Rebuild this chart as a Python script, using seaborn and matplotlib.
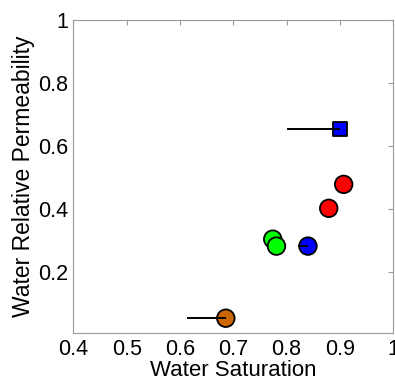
import matplotlib
matplotlib.use("Agg")
import matplotlib.pyplot as plt
import seaborn as sns
import pandas as pd
import numpy as np

sns.set_style("white")
plt.rcParams['font.family'] = ['Liberation Sans', 'DejaVu Sans']
plt.rcParams['text.color'] = 'black'
plt.rcParams['axes.labelcolor'] = 'black'
plt.rcParams['xtick.labelcolor'] = 'black'
plt.rcParams['ytick.labelcolor'] = 'black'

# data
sat = [0.900, 0.907, 0.879, 0.774, 0.781, 0.840, 0.686]
krw = [0.653, 0.478, 0.402, 0.304, 0.282, 0.282, 0.053]
group = ['sq', 'red', 'red', 'green', 'green', 'blue', 'orange']
marker_kind = ['s', 'o', 'o', 'o', 'o', 'o', 'o']
colors = {'sq': '#0000ff', 'red': '#ff0000', 'green': '#00ff00', 'blue': '#0000ff', 'orange': '#cc6600'}
xerr_left = [0.10, 0.0, 0.0, 0.0, 0.0, 0.018, 0.072]
xticks = [0.4, 0.5, 0.6, 0.7, 0.8, 0.9, 1.0]
xtick_labels = ['0.4', '0.5', '0.6', '0.7', '0.8', '0.9', '1']
yticks = [0.2, 0.4, 0.6, 0.8, 1.0]
ytick_labels = ['0.2', '0.4', '0.6', '0.8', '1']

df = pd.DataFrame({'sat': sat, 'krw': krw, 'group': group, 'mk': marker_kind})

fig = plt.figure(figsize=(3.95, 3.8), dpi=100)
ax = fig.add_axes([0.1856, 0.1228, 0.81, 0.8246])

sns.scatterplot(data=df[df.mk == 'o'], x='sat', y='krw', hue='group', palette=colors,
                s=160, marker='o', edgecolor='black', linewidth=1.3, legend=False, ax=ax, zorder=3)
sns.scatterplot(data=df[df.mk == 's'], x='sat', y='krw', hue='group', palette=colors,
                s=115, marker='s', edgecolor='black', linewidth=1.3, legend=False, ax=ax, zorder=3)

for x, y, e in zip(sat, krw, xerr_left):
    if e > 0:
        ax.errorbar([x], [y], xerr=[[e], [0]], fmt='none', ecolor='black', elinewidth=1.4,
                    capsize=0, zorder=4)

ax.set_xlim(0.4, 1.0)
ax.set_ylim(0.005, 1.0)
ax.set_xticks(xticks)
ax.set_xticklabels(xtick_labels)
ax.set_yticks(yticks)
ax.set_yticklabels(ytick_labels)
ax.tick_params(direction='in', length=3.5, labelsize=15.5, color='#999999', labelcolor='black',
               pad=4, top=True, right=True)
for sp in ax.spines.values():
    sp.set_color('#999999')
    sp.set_linewidth(0.8)
ax.set_xlabel('Water Saturation', fontsize=16, labelpad=0, color='black')
ax.set_ylabel('Water Relative Permeability', fontsize=16.5, labelpad=2, color='black')

fig.savefig('out.png', dpi=100)
